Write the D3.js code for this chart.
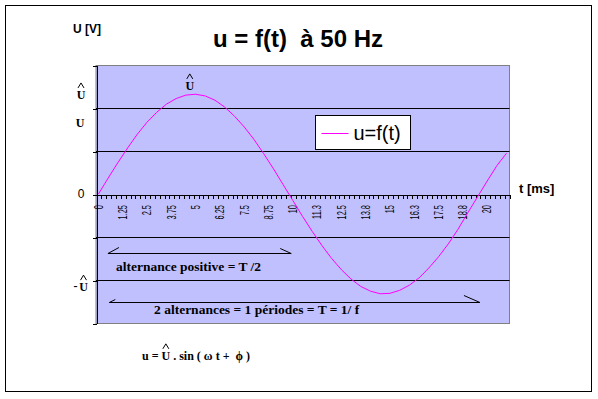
<!DOCTYPE html>
<html lang="fr">
  <head>
    <meta charset="UTF-8" />
    <title>u = f(t) à 50 Hz</title>
    <style>
      body { margin: 0; background: #fff; }
      text { font-family: "Liberation Sans", Arial, sans-serif; fill: #000; }
      .serif { font-family: "Liberation Serif", "Times New Roman", serif; font-weight: bold; }
    </style>
  </head>
  <body>
    <svg id="svg" width="598" height="399"></svg>

    <script src="https://cdn.jsdelivr.net/npm/d3@7"></script>
    <script>
      const WIDTH = 598;
      const HEIGHT = 399;
      const PLOT = { left: 96, right: 509.5, top: 65, bottom: 323 };

      // time in ms, voltage
      const T_MS = [
        0, 0.5, 1, 1.5, 2, 2.5, 3, 3.5, 4, 4.5, 5, 5.5, 6, 6.5, 7, 7.5, 8, 8.5,
        9, 9.5, 10, 10.5, 11, 11.5, 12, 12.5, 13, 13.5, 14, 14.5, 15, 15.5, 16,
        16.5, 17, 17.5, 18, 18.5, 19, 19.5, 20, 20.5, 21,
      ];
      const U_V = [
        0, 0.37, 0.73, 1.07, 1.39, 1.67, 1.9, 2.09, 2.22, 2.3, 2.32, 2.28, 2.18,
        2.02, 1.81, 1.56, 1.27, 0.94, 0.59, 0.22, -0.15, -0.52, -0.87, -1.2,
        -1.5, -1.76, -1.98, -2.15, -2.26, -2.32, -2.31, -2.24, -2.12, -1.95,
        -1.72, -1.46, -1.16, -0.82, -0.44, -0.07, 0.3, 0.66, 0.95,
      ];

      const X_LABEL_POS = [
        0, 1.25, 2.5, 3.75, 5, 6.25, 7.5, 8.75, 10, 11.25, 12.5, 13.75, 15,
        16.25, 17.5, 18.75, 20,
      ];
      const X_LABEL_TEXT = [
        "0", "1.25", "2.5", "3.75", "5", "6.25", "7.5", "8.75", "10", "11.3",
        "12.5", "13.8", "15", "16.3", "17.5", "18.8", "20",
      ];
      const X_DOMAIN = [-0.125, 21.15];
      const X_TICK_STEP = 0.25;

      const Y_DOMAIN = [-3, 3];
      const Y_TICKS = [-3, -2, -1, 0, 1, 2, 3];
      const Y_GRID = [-2, -1, 1, 2];
      const Y_LABEL_POS = [2.3, 1.64, 0, -2.17];
      const Y_LABEL_TEXT = ["U", "U", "0", "U"];
      const Y_LABEL_HAT = [true, false, false, true];
      const Y_LABEL_MINUS = [false, false, false, true];

      const PEAK_T = 4.7;
      const PEAK_V = 2.51;

      const ARROW_T0 = [0.49, 0.56];
      const ARROW_T1 = [9.92, 19.63];
      const ARROW_V = [-1.37, -2.52];
      const ANNOT_TEXT = ["alternance positive = T /2", "2 alternances = 1 périodes = T = 1/ f"];
      const ANNOT_T = [0.9, 2.86];
      const ANNOT_V = [-1.78, -2.79];

      const svg = d3.select("#svg");

      const x = d3.scaleLinear().domain(X_DOMAIN).range([PLOT.left, PLOT.right]);
      const y = d3.scaleLinear().domain(Y_DOMAIN).range([PLOT.bottom, PLOT.top]);

      // outer frame
      svg.append("rect")
        .attr("x", 5.5).attr("y", 5.5)
        .attr("width", 586).attr("height", 386)
        .attr("fill", "#fff").attr("stroke", "#000");

      // plot area
      svg.append("rect")
        .attr("x", PLOT.left).attr("y", PLOT.top + 0.5)
        .attr("width", PLOT.right - PLOT.left)
        .attr("height", PLOT.bottom - PLOT.top)
        .attr("fill", "#c0c0ff").attr("stroke", "#808080");

      // grid lines
      svg.append("g").selectAll("line").data(Y_GRID).join("line")
        .attr("x1", PLOT.left).attr("x2", PLOT.right)
        .attr("y1", (d) => Math.round(y(d)) + 0.5)
        .attr("y2", (d) => Math.round(y(d)) + 0.5)
        .attr("stroke", "#000");

      // left axis
      const leftAxis = d3.axisLeft(y).tickValues(Y_TICKS).tickSize(4).tickSizeOuter(0).tickFormat("");
      const gLeft = svg.append("g")
        .attr("transform", `translate(${PLOT.left + 0.5},0.5)`)
        .call(leftAxis);
      gLeft.selectAll("path, line").attr("stroke", "#000").attr("shape-rendering", "crispEdges");

      // time axis on the zero line
      const tickVals = d3.range(X_DOMAIN[0], X_DOMAIN[1], X_TICK_STEP);
      const bottomAxis = d3.axisBottom(x).tickValues(tickVals).tickSize(4).tickSizeOuter(0).tickFormat("");
      const gBottom = svg.append("g")
        .attr("transform", `translate(0.5,${Math.round(y(0)) + 0.5})`)
        .call(bottomAxis);
      gBottom.selectAll("path, line").attr("stroke", "#000").attr("shape-rendering", "crispEdges");

      svg.append("g").selectAll("text").data(X_LABEL_POS).join("text")
        .attr("transform", (d) => `translate(${x(d)},205) rotate(-90) scale(0.62,1)`)
        .attr("text-anchor", "end")
        .attr("dy", "0.36em")
        .attr("font-size", 12)
        .text((d, i) => X_LABEL_TEXT[i]);

      // curve
      const line = d3.line().x((d, i) => x(T_MS[i])).y((d) => y(d));
      svg.append("path")
        .attr("d", line(U_V))
        .attr("fill", "none")
        .attr("stroke", "#ff00ff")
        .attr("stroke-width", 1);

      // U with a hat drawn over it
      function hatU(cx, baseline, size) {
        svg.append("text").attr("class", "serif")
          .attr("x", cx).attr("y", baseline)
          .attr("text-anchor", "middle").attr("font-size", size)
          .text("U");
        const top = baseline - size * 0.68 - 3;
        svg.append("path")
          .attr("d", `M${cx - 3},${top}L${cx},${top - 5}L${cx + 3},${top}`)
          .attr("fill", "none").attr("stroke", "#000").attr("stroke-width", 1);
      }

      // y labels
      Y_LABEL_POS.forEach((v, i) => {
        const base = y(v) + 4;
        if (Y_LABEL_HAT[i]) {
          const cx = Y_LABEL_MINUS[i] ? 83.5 : 81;
          hatU(cx, base, 12);
          if (Y_LABEL_MINUS[i]) {
            svg.append("text").attr("class", "serif")
              .attr("x", 77.5).attr("y", base - 1)
              .attr("text-anchor", "end").attr("font-size", 12).text("-");
          }
        } else if (Y_LABEL_TEXT[i] === "0") {
          svg.append("text").attr("x", 81).attr("y", base)
            .attr("text-anchor", "middle").attr("font-size", 12).text("0");
        } else {
          svg.append("text").attr("class", "serif")
            .attr("x", 80).attr("y", base)
            .attr("text-anchor", "middle").attr("font-size", 12).text(Y_LABEL_TEXT[i]);
        }
      });

      // peak label
      hatU(x(PEAK_T), y(PEAK_V) + 4, 12);

      // arrows
      ARROW_V.forEach((v, i) => {
        const yy = Math.round(y(v)) + 0.5;
        const x0 = x(ARROW_T0[i]);
        const x1 = x(ARROW_T1[i]);
        const barb = i === 0 ? [11, 6, 11, 5] : [6, 3, 16, 7];
        svg.append("path")
          .attr("d", `M${x0 + barb[0]},${yy - barb[1]}L${x0},${yy}L${x1},${yy}L${x1 - barb[2]},${yy - barb[3]}`)
          .attr("fill", "none").attr("stroke", "#000");
      });

      svg.append("g").selectAll("text").data(ANNOT_TEXT).join("text")
        .attr("class", "serif")
        .attr("x", (d, i) => x(ANNOT_T[i]))
        .attr("y", (d, i) => y(ANNOT_V[i]))
        .attr("font-size", 13.5)
        .text((d) => d);

      // legend
      const legend = svg.append("g").attr("transform", "translate(315.5,115.5)");
      legend.append("rect").attr("width", 95).attr("height", 34)
        .attr("fill", "#fff").attr("stroke", "#000");
      legend.append("line").attr("x1", 6).attr("x2", 33).attr("y1", 18).attr("y2", 18)
        .attr("stroke", "#ff00ff");
      legend.append("text").attr("x", 38).attr("y", 24).attr("font-size", 20).text("u=f(t)");

      // titles
      svg.append("text")
        .attr("x", 298).attr("y", 47)
        .attr("text-anchor", "middle")
        .attr("font-size", 24).attr("font-weight", "bold")
        .attr("xml:space", "preserve").style("white-space", "pre")
        .text("u = f(t)  à 50 Hz");

      svg.append("text").attr("x", 73).attr("y", 33)
        .attr("font-size", 12).attr("font-weight", "bold").text("U [V]");

      svg.append("text").attr("x", 519).attr("y", 193)
        .attr("font-size", 13).attr("font-weight", "bold").text("t [ms]");

      // formula
      const f1 = svg.append("text").attr("class", "serif")
        .attr("x", 142).attr("y", 360).attr("font-size", 12)
        .style("white-space", "pre").text("u = ");
      const uX = 142 + f1.node().getComputedTextLength();
      const uText = svg.append("text").attr("class", "serif")
        .attr("x", uX).attr("y", 360).attr("font-size", 12).text("U");
      const uW = uText.node().getComputedTextLength();
      const hatTop = 360 - 12 * 0.68 - 3;
      svg.append("path")
        .attr("d", `M${uX + uW / 2 - 3},${hatTop}L${uX + uW / 2},${hatTop - 5}L${uX + uW / 2 + 3},${hatTop}`)
        .attr("fill", "none").attr("stroke", "#000");
      svg.append("text").attr("class", "serif")
        .attr("x", uX + uW).attr("y", 360).attr("font-size", 12)
        .style("white-space", "pre").text(" . sin ( ω t +  ϕ )");
    </script>
  </body>
</html>
